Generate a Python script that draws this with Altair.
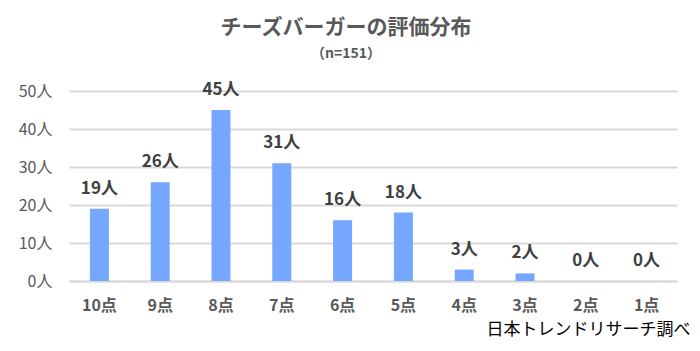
import altair as alt
import pandas as pd

categories = ["10点", "9点", "8点", "7点", "6点", "5点", "4点", "3点", "2点", "1点"]
counts = [19, 26, 45, 31, 16, 18, 3, 2, 0, 0]
y_ticks = [0, 10, 20, 30, 40, 50]

df = pd.DataFrame({"cat": categories, "n": counts})
df["label"] = df["n"].astype(str) + "人"

FONT = "Noto Sans CJK JP"

x = alt.X("cat:N", sort=categories,
          scale=alt.Scale(paddingInner=0.69, paddingOuter=0.345),
          axis=alt.Axis(title="日本トレンドリサーチ調べ", labelAngle=0, labelFontSize=16,
                        labelFontWeight="bold", labelColor="#595959", labelFont=FONT,
                        labelPadding=16, ticks=False, grid=False,
                        domainColor="#D9D9D9", domainWidth=2,
                        titleFont=FONT, titleFontSize=17, titleFontWeight="normal",
                        titleColor="#000000", titleAnchor="end", titleAlign="right",
                        titleX=621, titleY=57, titleBaseline="bottom"))
y = alt.Y("n:Q", scale=alt.Scale(domain=[0, 50]),
          axis=alt.Axis(title=None, values=y_ticks, labelExpr="datum.label + '人'",
                        labelFontSize=16, labelColor="#595959", labelFont=FONT,
                        labelPadding=17, ticks=False, domain=False,
                        gridColor="#D9D9D9", gridWidth=2))

base = alt.Chart(df).encode(x=x, y=y)
bars = base.mark_bar(color="#75A7FF", size=19)
text = base.mark_text(baseline="bottom", dy=-11, fontSize=17, fontWeight="bold",
                      color="#404040", font=FONT).encode(text="label:N")

chart = alt.layer(bars, text).properties(
    width=608, height=190,
    background="white",
    padding={"left": 69, "top": 91, "right": 23, "bottom": 70},
    autosize=alt.AutoSizeParams(type="none"),
    title=alt.TitleParams(text="チーズバーガーの評価分布", subtitle="（n=151）",
                          font=FONT, fontSize=21, fontWeight="bold", color="#595959",
                          subtitleFont=FONT, subtitleFontSize=14, subtitleFontWeight="bold",
                          subtitleColor="#595959", anchor="middle", dx=-27, offset=20,
                          subtitlePadding=9),
).configure_view(stroke=None, strokeWidth=0)

chart.save("out.html", embed_options={"renderer": "svg", "actions": False})
